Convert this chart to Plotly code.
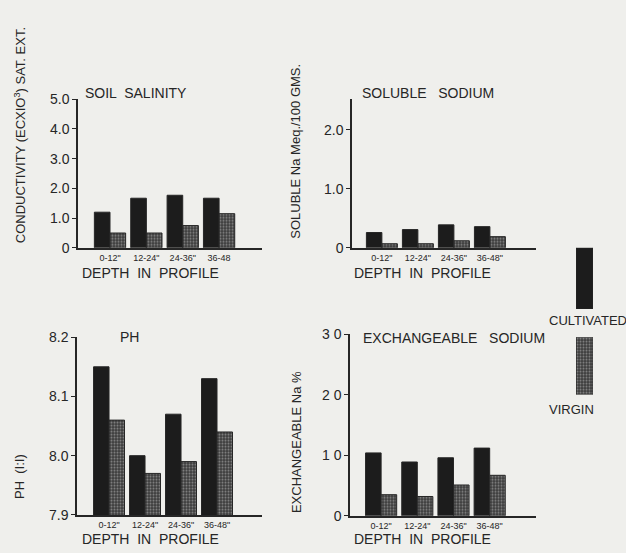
import plotly.graph_objects as go

# ---------------- data ----------------
depths = ['0-12"', '12-24"', '24-36"', '36-48"']
depths_salinity = ['0-12"', '12-24"', '24-36"', '36-48']

salinity_cultivated = [1.2, 1.67, 1.77, 1.67]
salinity_virgin = [0.5, 0.5, 0.75, 1.15]

sodium_cultivated = [0.26, 0.31, 0.39, 0.36]
sodium_virgin = [0.07, 0.07, 0.12, 0.19]

ph_cultivated = [8.15, 8.00, 8.07, 8.13]
ph_virgin = [8.06, 7.97, 7.99, 8.04]

exna_cultivated = [10.4, 8.9, 9.6, 11.2]
exna_virgin = [3.5, 3.2, 5.1, 6.7]

salinity_ticks = [0, 1, 2, 3, 4, 5]
salinity_ticktext = ["0", "1.0", "2.0", "3.0", "4.0", "5.0"]
sodium_ticks = [0, 1, 2]
sodium_ticktext = ["0", "1.0", "2.0"]
ph_ticks = [7.9, 8.0, 8.1, 8.2]
ph_ticktext = ["7.9", "8.0", "8.1", "8.2"]
exna_ticks = [0, 10, 20, 30]
exna_ticktext = ["0", "1 0", "2 0", "3 0"]

# ---------------- style ----------------
W, H = 626, 553
BG = "#efefec"
INK = "#262626"
FONT = "Liberation Sans"
CULT_COLOR = "#1c1c1c"


def px(x):
    return x / W


def py(y):
    return 1 - y / H


def virgin_marker():
    return dict(color="#555555",
                line=dict(color=INK, width=1),
                pattern=dict(shape=".", fgcolor="#d0d0d0", bgcolor="#3a3a3a",
                             size=3, solidity=0.4))


def cult_marker():
    return dict(color=CULT_COLOR, line=dict(color=INK, width=1))


fig = go.Figure()

panels = [
    ("x", "y", salinity_cultivated, salinity_virgin),
    ("x2", "y2", sodium_cultivated, sodium_virgin),
    ("x3", "y3", ph_cultivated, ph_virgin),
    ("x4", "y4", exna_cultivated, exna_virgin),
]
xs = list(range(len(depths)))
for xa, ya, c, v in panels:
    fig.add_trace(go.Bar(x=xs, y=c, xaxis=xa, yaxis=ya, name="CULTIVATED",
                         marker=cult_marker(), showlegend=False))
    fig.add_trace(go.Bar(x=xs, y=v, xaxis=xa, yaxis=ya, name="VIRGIN",
                         marker=virgin_marker(), showlegend=False))

# legend key bars (own hidden axes)
fig.add_trace(go.Bar(x=[0], y=[1], base=[0], width=[1], offset=-0.5,
                     xaxis="x5", yaxis="y5", marker=cult_marker(), showlegend=False))
fig.add_trace(go.Bar(x=[0], y=[1], base=[0], width=[1], offset=-0.5,
                     xaxis="x6", yaxis="y6", marker=virgin_marker(), showlegend=False))


def xaxis(x0, x1, rng, anchor, ticktext):
    return dict(domain=[px(x0), px(x1)], range=rng, anchor=anchor,
                tickmode="array", tickvals=xs, ticktext=ticktext,
                showline=True, linecolor=INK, linewidth=1.5,
                ticks="", showgrid=False, zeroline=False,
                tickfont=dict(family=FONT, size=9, color=INK),
                ticklabelstandoff=1, fixedrange=True)


def yaxis(y0, y1, rng, anchor, tv, tt):
    return dict(domain=[py(y0), py(y1)], range=rng, anchor=anchor,
                tickmode="array", tickvals=tv, ticktext=tt,
                showline=True, linecolor=INK, linewidth=1.5,
                ticks="outside", ticklen=4, tickcolor=INK, tickwidth=1,
                showgrid=False, zeroline=False,
                tickfont=dict(family=FONT, size=14, color=INK),
                ticklabelstandoff=0, fixedrange=True)


hidden = dict(visible=False, fixedrange=True)

fig.update_layout(
    width=W, height=H,
    margin=dict(l=0, r=0, t=0, b=0),
    paper_bgcolor=BG, plot_bgcolor="rgba(0,0,0,0)",
    barmode="group", bargap=0.14, bargroupgap=0,
    xaxis=xaxis(78, 262, [-0.88, 4.18], "y", depths_salinity),
    yaxis=yaxis(247, 94, [0, 5], "x", salinity_ticks, salinity_ticktext),
    xaxis2=xaxis(352, 536, [-0.83, 4.28], "y2", depths),
    yaxis2=yaxis(247, 94, [0, 2.52], "x2", sodium_ticks, sodium_ticktext),
    xaxis3=xaxis(77, 262, [-0.89, 4.25], "y3", depths),
    yaxis3=yaxis(522, 339, [7.9, 8.2], "x3", ph_ticks, ph_ticktext),
    xaxis4=xaxis(350, 536, [-0.86, 4.28], "y4", depths),
    yaxis4=yaxis(523, 336, [0, 30], "x4", exna_ticks, exna_ticktext),
    xaxis5=dict(domain=[px(576), px(593)], range=[-0.5, 0.5], anchor="y5", **hidden),
    yaxis5=dict(domain=[py(310), py(247)], range=[0, 1], anchor="x5", **hidden),
    xaxis6=dict(domain=[px(576), px(593)], range=[-0.5, 0.5], anchor="y6", **hidden),
    yaxis6=dict(domain=[py(398), py(339)], range=[0, 1], anchor="x6", **hidden),
)


def text(s, x, y, size=13, xanchor="left", angle=0):
    fig.add_annotation(text=s, x=px(x), y=py(y), xref="paper", yref="paper",
                       showarrow=False, xanchor=xanchor, yanchor="middle",
                       textangle=angle, borderpad=0,
                       font=dict(family=FONT, size=size, color=INK))


# panel titles
text("SOIL  SALINITY", 84, 88, size=14)
text("SOLUBLE   SODIUM", 361, 88, size=14)
text("PH", 119, 339, size=14)
text("EXCHANGEABLE   SODIUM", 362, 340, size=14)

# x titles
text("DEPTH  IN  PROFILE", 150, 273, size=14, xanchor="center")
text("DEPTH  IN  PROFILE", 423, 273, size=14, xanchor="center")
text("DEPTH  IN  PROFILE", 150, 547, size=14, xanchor="center")
text("DEPTH  IN  PROFILE", 423, 547, size=14, xanchor="center")

# y titles
text("CONDUCTIVITY (ECXIO<sup>3</sup>) SAT. EXT.", 20, 131, size=13, xanchor="center", angle=-90)
text("SOLUBLE Na Meq./100 GMS.", 296, 148, size=13, xanchor="center", angle=-90)
text("PH  (I:I)", 19, 483, size=13, xanchor="center", angle=-90)
text("EXCHANGEABLE Na %", 296, 447, size=13, xanchor="center", angle=-90)

# legend labels
text("CULTIVATED", 548, 322, size=13)
text("VIRGIN", 548, 413, size=13)

fig.write_html("out.html", config={"displayModeBar": False},
               post_script="document.body.style.margin='0';")
